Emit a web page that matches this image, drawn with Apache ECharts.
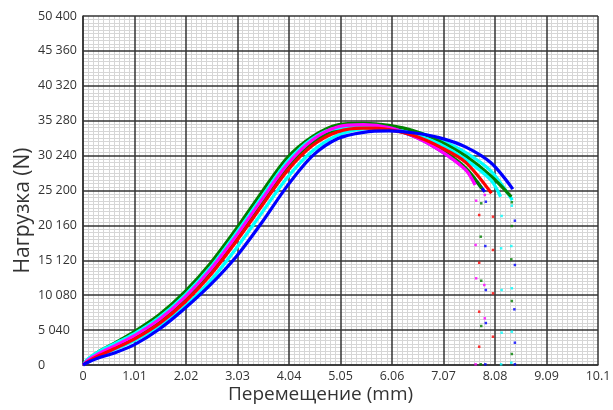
<!DOCTYPE html>
<html><head><meta charset="utf-8">
<script src="https://cdn.jsdelivr.net/npm/echarts@6/dist/echarts.min.js"></script>
<style>html,body{margin:0;padding:0;background:#fff}#c{width:613px;height:410px}</style>
</head><body><div id="c"></div>
<script>
// ---- data (displacement mm, load N) ----
const dispMM = [0,0.1,0.3,0.6,1.0,1.5,2.0,2.5,3.0,3.5,4.0,4.5,5.0,5.5,6.0,6.5,7.0,7.5,8.0];
const xTicks = [0,1.01,2.02,3.03,4.04,5.05,6.06,7.07,8.08,9.09,10.1];
const yTicks = [0,5040,10080,15120,20160,25200,30240,35280,40320,45360,50400];

const blue1Load   = [0,600,1500,2600,4100,6500,9700,13700,18600,23800,28900,32300,34000,34400,34100,33000,31000,28300];
const blue1End    = [7.88,25000];
const blue1DropX  = [7.90,7.89,7.90,7.90,7.89];
const blue1DropY  = [23580,17180,10830,6060,100];

const cyan2Load   = [0,600,1300,2200,3500,5600,8500,12200,16800,21900,27000,30900,33200,34100,34200,33700,32500,30700,28000];
const cyan2End    = [8.42,23800];
const cyan2DropX  = [8.41,8.40,8.41,8.41,8.40];
const cyan2DropY  = [23000,17180,11080,4810,330];

const green2Load  = [0,600,1500,2500,4000,6300,9500,13400,18200,23300,28400,32000,34000,34500,34200,33100,31200,28500];
const green2End   = [7.82,25500];
const green2DropX = [7.81,7.80,7.81,7.81,7.80];
const green2DropY = [23350,18530,12170,5630,100];

const green1Load  = [0,800,1900,3100,4800,7300,10600,14700,19600,24900,29900,33000,34700,34900,34600,33800,32300,30200,27300];
const green1End   = [8.40,24300];
const green1DropX = [8.41,8.41,8.40,8.41,8.41];
const green1DropY = [23500,20070,15260,9240,1590];

const cyan1Load   = [0,900,1900,3000,4500,6900,10100,14100,19000,24200,29300,32700,34200,34300,34100,33300,31900,29700,26700];
const cyan1End    = [8.19,24300];
const cyan1DropX  = [8.21,8.20,8.21,8.21,8.20];
const cyan1DropY  = [21520,16850,10830,4670,100];

const magentaLoad  = [0,700,1600,2700,4200,6600,9800,13800,18600,23800,28900,32500,34400,34700,34300,33000,31000,28200];
const magentaEnd   = [7.69,26000];
const magentaDropX = [7.71,7.88,7.70,7.87,7.71,7.88,7.70];
const magentaDropY = [23730,24550,17330,11550,12520,6740,100];

const redLoad   = [0,500,1300,2300,3700,6000,9100,13000,17800,22900,28000,31700,33700,34200,34000,33100,31500,29300];
const redEnd    = [8.01,24800];
const redDropX  = [7.77,8.04,7.77,8.04,7.77,8.04,7.77,8.04];
const redDropY  = [21660,21420,14770,16610,7700,10350,2640,4090];

const blue2Load  = [0,400,1000,1700,2900,5200,8200,11600,15600,20500,25800,30200,32700,33600,33800,33500,32800,31500,29200];
const blue2End   = [8.43,25400];
const blue2DropX = [8.47,8.47,8.46,8.47,8.47];
const blue2DropY = [20840,14440,8040,3220,100];

const specimens = [
  ['Образец 1', blue1Load, blue1End, blue1DropX, blue1DropY, '#0000ff'],
  ['Образец 2', cyan2Load, cyan2End, cyan2DropX, cyan2DropY, '#00ffff'],
  ['Образец 3', green2Load, green2End, green2DropX, green2DropY, '#008000'],
  ['Образец 4', green1Load, green1End, green1DropX, green1DropY, '#008000'],
  ['Образец 5', cyan1Load, cyan1End, cyan1DropX, cyan1DropY, '#00ffff'],
  ['Образец 6', magentaLoad, magentaEnd, magentaDropX, magentaDropY, '#ff00ff'],
  ['Образец 7', redLoad, redEnd, redDropX, redDropY, '#ff0000'],
  ['Образец 8', blue2Load, blue2End, blue2DropX, blue2DropY, '#0000ff']
];

const series = [];
specimens.forEach(s => {
  const pts = s[1].map((v,i) => [dispMM[i], v]);
  pts.push(s[2]);
  series.push({name:s[0], type:'line', data:pts, showSymbol:false, smooth:0.3,
    lineStyle:{color:s[5], width:3.2}, itemStyle:{color:s[5]}, z:5, silent:true, animation:false});
  series.push({name:s[0]+' d', type:'scatter', data:s[3].map((x,i)=>[x,s[4][i]]), symbol:'rect', symbolSize:2.5,
    itemStyle:{color:s[5]}, z:5, silent:true, animation:false});
});

const fmtY = v => String(Math.round(v)).replace(/\B(?=(\d{3})+(?!\d))/g,' ');
const fmtX = v => String(+v.toFixed(2));
const minX = xTicks[0], maxX = xTicks[xTicks.length-1], stepX = xTicks[1];
const minY = yTicks[0], maxY = yTicks[yTicks.length-1], stepY = yTicks[1];

const chart = echarts.init(document.getElementById('c'), null, {renderer:'canvas'});
chart.setOption({
  animation:false,
  backgroundColor:'#fff',
  grid:{left:83, right:15, top:16, bottom:45, containLabel:false, outerBoundsMode:'none'},
  xAxis:[
    {type:'value', min:minX, max:maxX, interval:stepX, z:0,
      axisLine:{show:false}, axisTick:{show:false}, axisLabel:{show:false}, splitLine:{show:false},
      minorTick:{show:false, splitNumber:10},
      minorSplitLine:{show:true, lineStyle:{color:'#d6d6d6', width:1}}},
    {type:'value', min:minX, max:maxX, interval:stepX, z:1, position:'bottom',
      name:'Перемещение (mm)', nameLocation:'middle', nameGap:20, nameMoveOverlap:false,
      nameTextStyle:{fontFamily:'Open Sans', fontSize:19, color:'#333', padding:[0,40,0,0]},
      axisLine:{show:true, lineStyle:{color:'#333', width:1.5}}, axisTick:{show:false},
      axisLabel:{formatter:fmtX, fontFamily:'Open Sans', fontSize:12.5, color:'#333', margin:5},
      splitLine:{show:true, lineStyle:{color:'#333', width:1.5}}}
  ],
  yAxis:[
    {type:'value', min:minY, max:maxY, interval:stepY, z:0,
      axisLine:{show:false}, axisTick:{show:false}, axisLabel:{show:false}, splitLine:{show:false},
      minorTick:{show:false, splitNumber:10},
      minorSplitLine:{show:true, lineStyle:{color:'#d6d6d6', width:1}}},
    {type:'value', min:minY, max:maxY, interval:stepY, z:1, position:'left',
      name:'Нагрузка (N)', nameLocation:'middle', nameGap:49, nameRotate:90, nameMoveOverlap:false,
      nameTextStyle:{fontFamily:'Open Sans', fontSize:21, color:'#333', padding:[0,0,0,-40]},
      axisLine:{show:true, lineStyle:{color:'#333', width:1.5}}, axisTick:{show:false},
      axisLabel:{formatter:fmtY, fontFamily:'Open Sans', fontSize:12.5, color:'#333', margin:45, align:'left'},
      splitLine:{show:true, lineStyle:{color:'#333', width:1.5}}}
  ],
  series: series
});
</script></body></html>
